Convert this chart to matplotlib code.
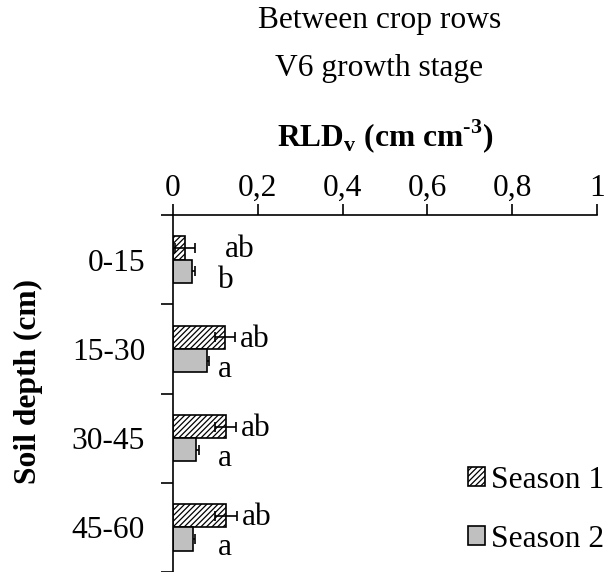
import numpy as np
from matplotlib import pyplot as plt

plt.rcParams['font.family'] = 'Liberation Serif'
plt.rcParams['mathtext.fontset'] = 'custom'
plt.rcParams['mathtext.rm'] = 'Liberation Serif'
plt.rcParams['mathtext.bf'] = 'Liberation Serif:bold'
plt.rcParams['hatch.linewidth'] = 0.9

depths = ["0-15", "15-30", "30-45", "45-60"]
season1 = [0.028, 0.123, 0.124, 0.125]
season1_err = [0.024, 0.023, 0.025, 0.026]
season2 = [0.045, 0.080, 0.054, 0.047]
season2_err = [0.007, 0.005, 0.007, 0.005]
letters1 = ["ab", "ab", "ab", "ab"]
letters2 = ["b", "a", "a", "a"]
xticks = [0, 0.2, 0.4, 0.6, 0.8, 1]
xticklabels = ["0", "0,2", "0,4", "0,6", "0,8", "1"]

fig = plt.figure(figsize=(6.06, 5.72), dpi=100)
ax = fig.add_axes([0.2855, 0.0, 0.6995, 0.624])

fs = 22.7
h = 0.26
centers = np.arange(len(depths)) + 0.5

ax.barh(centers - h / 2, season1, height=h, color='none', edgecolor='black',
        hatch='//////', linewidth=1.2, label='Season 1', zorder=2)
ax.barh(centers + h / 2, season2, height=h, color='#c0c0c0', edgecolor='black',
        linewidth=1.2, label='Season 2', zorder=2)
ax.errorbar(season1, centers - h / 2, xerr=season1_err, fmt='none', ecolor='black',
            elinewidth=1.2, capsize=3.5, capthick=1.2, zorder=1)
ax.errorbar(season2, centers + h / 2, xerr=season2_err, fmt='none', ecolor='black',
            elinewidth=1.2, capsize=3.5, capthick=1.2, zorder=1)

for i in range(len(depths)):
    x1 = max(season1[i] + season1_err[i], 0.11) + 0.012
    x2 = max(season2[i] + season2_err[i], 0.095) + 0.012
    ax.text(x1, centers[i] - h / 2 + 0.02, letters1[i], fontsize=fs, va='center', ha='left')
    ax.text(x2, centers[i] + h / 2 + 0.1, letters2[i], fontsize=fs, va='center', ha='left')

ax.set_xlim(0, 1)
ax.set_ylim(len(depths), 0)
ax.xaxis.tick_top()
ax.set_xticks(xticks)
ax.set_xticklabels(xticklabels, fontsize=fs)
ax.tick_params(axis='x', direction='out', length=8, width=1.2, pad=1)
ax.set_yticks(np.arange(len(depths) + 1))
ax.set_yticklabels([])
ax.tick_params(axis='y', which='major', direction='out', length=9, width=1.2)
ax.set_yticks(centers, minor=True)
ax.set_yticklabels(depths, minor=True, fontsize=fs)
ax.tick_params(axis='y', which='minor', length=0, pad=20)
for s in ['right', 'bottom']:
    ax.spines[s].set_visible(False)
for s in ['top', 'left']:
    ax.spines[s].set_linewidth(1.2)

ax.set_xlabel(r'RLD$_{\mathbf{v}}$ (cm cm$^{\mathbf{\text{-}3}}$)', fontsize=fs,
              fontweight='bold', labelpad=20)
ax.xaxis.set_label_position('top')

fig.text(28 / 606, 1 - 382 / 572, 'Soil depth (cm)', fontsize=fs, fontweight='bold',
         rotation=90, ha='center', va='center')
fig.text(0.626, 0.965, 'Between crop rows', fontsize=fs, ha='center', va='center')
fig.text(0.626, 0.881, 'V6 growth stage', fontsize=fs, ha='center', va='center')

fig.legend(loc='lower right', bbox_to_anchor=(1.018, 0.01), frameon=False, fontsize=fs,
           handlelength=0.55, handleheight=0.55, handletextpad=0.2, labelspacing=0.95,
           borderaxespad=0)

fig.savefig('out.png', dpi=100)
